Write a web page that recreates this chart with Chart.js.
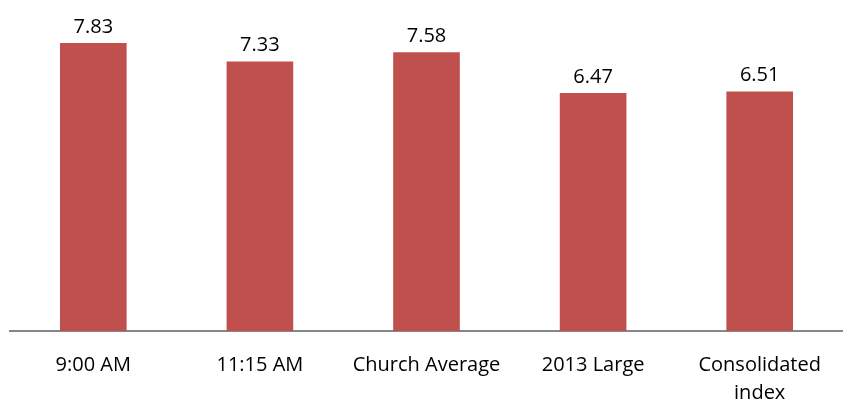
<!DOCTYPE html>
<html lang="en">
<head>
    <meta charset="UTF-8">
    <title>Bar chart</title>
    <script src="https://cdn.jsdelivr.net/npm/chart.js"></script>
    <style>
        html, body { margin: 0; padding: 0; background: #fff; }
        #wrap { width: 843px; height: 408px; }
    </style>
</head>
<body>
    <div id="wrap"><canvas id="barChart"></canvas></div>
    <script>
        // chart data
        const categories = ['9:00 AM', '11:15 AM', 'Church Average', '2013 Large', ['Consolidated', 'index']];
        const scores = [7.83, 7.33, 7.58, 6.47, 6.51];

        // value labels above the bars
        const valueLabels = {
            id: 'valueLabels',
            afterDatasetsDraw(chart) {
                const ctx = chart.ctx;
                const meta = chart.getDatasetMeta(0);
                ctx.save();
                ctx.font = '20px "Open Sans"';
                ctx.fillStyle = '#000';
                ctx.textAlign = 'center';
                ctx.textBaseline = 'middle';
                meta.data.forEach((bar, i) => {
                    ctx.fillText(scores[i].toFixed(2), bar.x, bar.y - 16);
                });
                ctx.restore();
            }
        };

        new Chart(document.getElementById('barChart'), {
            type: 'bar',
            data: {
                labels: categories,
                datasets: [{
                    data: scores,
                    backgroundColor: '#C0504D',
                    barPercentage: 0.4,
                    categoryPercentage: 1
                }]
            },
            options: {
                responsive: true,
                maintainAspectRatio: false,
                animation: false,
                layout: { padding: { left: 10, right: 0, top: 0, bottom: 0 } },
                plugins: { legend: { display: false }, tooltip: { enabled: false } },
                scales: {
                    y: { display: false, min: 0, max: 9 },
                    x: {
                        afterFit(scale) { scale.height = 77; },
                        grid: { display: false },
                        border: { display: true, color: '#868686', width: 2 },
                        ticks: {
                            color: '#000',
                            padding: 12,
                            maxRotation: 0,
                            font: { family: '"Open Sans"', size: 20, lineHeight: 1.4 }
                        }
                    }
                }
            },
            plugins: [valueLabels]
        });
    </script>
</body>
</html>
